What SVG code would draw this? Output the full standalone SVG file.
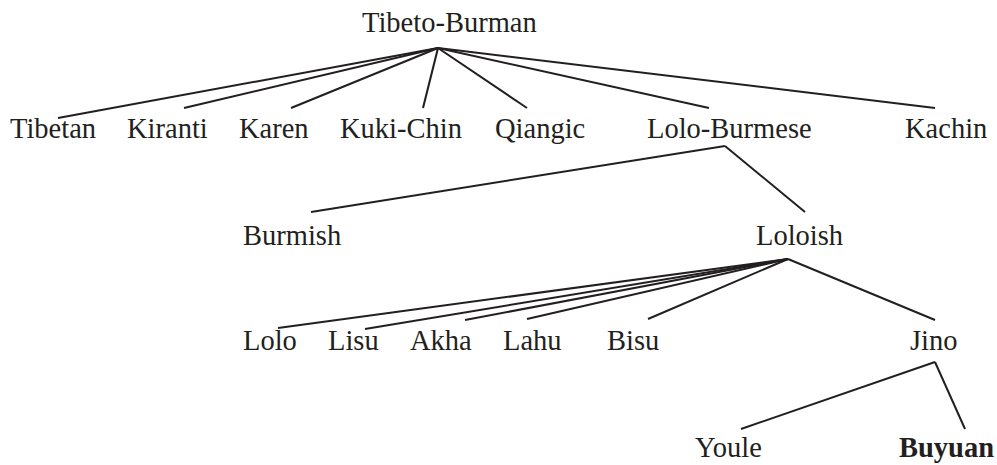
<svg xmlns="http://www.w3.org/2000/svg" width="997" height="465" viewBox="0 0 997 465">
<style>
text{font-family:"Liberation Serif","Times New Roman",serif;font-size:28.5px;fill:#231f20}
.b{font-weight:bold}
#edges line{stroke:#231f20;stroke-width:2;stroke-linecap:butt}
</style>
<rect width="997" height="465" fill="#fff"/>
<g id="edges">
<line x1="438" y1="48" x2="58" y2="118"/>
<line x1="438" y1="48" x2="184" y2="108"/>
<line x1="438" y1="48" x2="291" y2="108"/>
<line x1="438" y1="48" x2="423" y2="108"/>
<line x1="438" y1="48" x2="527" y2="108"/>
<line x1="438" y1="48" x2="709" y2="108"/>
<line x1="438" y1="48" x2="935" y2="108"/>
<line x1="725" y1="146" x2="311" y2="212"/>
<line x1="725" y1="146" x2="805" y2="212"/>
<line x1="788" y1="259" x2="278" y2="328"/>
<line x1="788" y1="259" x2="365" y2="329"/>
<line x1="788" y1="259" x2="465" y2="320"/>
<line x1="788" y1="259" x2="527" y2="319"/>
<line x1="788" y1="259" x2="648" y2="319"/>
<line x1="788" y1="259" x2="935" y2="320"/>
<line x1="935" y1="362" x2="741" y2="429"/>
<line x1="935" y1="362" x2="965" y2="429"/>
</g>
<g id="n-tibeto-burman"><text x="362" y="32">Tibeto-Burman</text></g>
<g id="n-tibetan"><text x="10" y="138">Tibetan</text></g>
<g id="n-kiranti"><text x="127" y="138">Kiranti</text></g>
<g id="n-karen"><text x="239" y="138">Karen</text></g>
<g id="n-kuki-chin"><text x="340" y="138">Kuki-Chin</text></g>
<g id="n-qiangic"><text x="495" y="138">Qiangic</text></g>
<g id="n-lolo-burmese"><text x="647" y="138">Lolo-Burmese</text></g>
<g id="n-kachin"><text x="905" y="138">Kachin</text></g>
<g id="n-burmish"><text x="243" y="245">Burmish</text></g>
<g id="n-loloish"><text x="756" y="245">Loloish</text></g>
<g id="n-lolo"><text x="243" y="350">Lolo</text></g>
<g id="n-lisu"><text x="328" y="350">Lisu</text></g>
<g id="n-akha"><text x="410" y="350">Akha</text></g>
<g id="n-lahu"><text x="503" y="350">Lahu</text></g>
<g id="n-bisu"><text x="607" y="350">Bisu</text></g>
<g id="n-jino"><text x="910" y="350">Jino</text></g>
<g id="n-youle"><text x="695" y="457">Youle</text></g>
<g id="n-buyuan"><text class="b" x="899" y="457">Buyuan</text></g>
</svg>
